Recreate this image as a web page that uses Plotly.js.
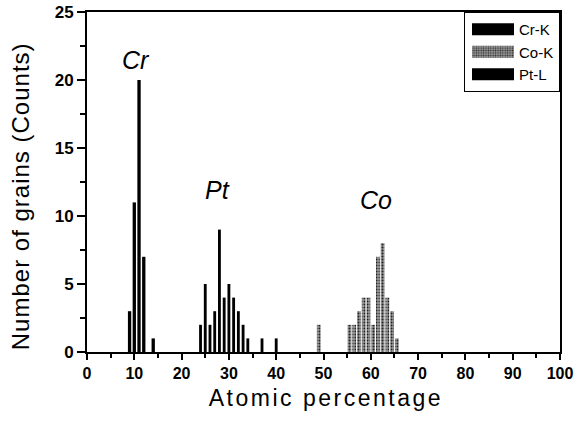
<!DOCTYPE html>
<html>
<head>
<meta charset="utf-8">
<script src="https://cdn.plot.ly/plotly-3.0.1.min.js"></script>
<style>
  html, body { margin: 0; padding: 0; background: #fff; }
  #chart { width: 575px; height: 430px; }
</style>
</head>
<body>
<div id="chart"></div>
<script>
// Data
const seriesNames = ["Cr-K", "Co-K", "Pt-L"];
const crX = [9, 10, 11, 12, 14];
const crY = [3, 11, 20, 7, 1];
const coX = [49, 55.5, 56.5, 57.5, 58.5, 59.5, 60.5, 61.5, 62.5, 63.5, 64.5, 65.5];
const coY = [2, 2, 2, 3, 4, 4, 2, 7, 8, 4, 3, 1];
const ptX = [24, 25, 26, 27, 28, 29, 30, 31, 32, 33, 34, 37, 40];
const ptY = [2, 5, 2, 3, 9, 4, 5, 4, 3, 2, 1, 1, 1];
const xTickVals = [0, 10, 20, 30, 40, 50, 60, 70, 80, 90, 100];
const yTickVals = [0, 5, 10, 15, 20, 25];
const peakLabels = [
  {text: "Cr", x: 10.4, y: 21.5},
  {text: "Pt", x: 27.5, y: 11.9},
  {text: "Co", x: 61, y: 11.2}
];

const FONT = "Arial, 'Liberation Sans', sans-serif";

const traces = [
  {type: "bar", name: seriesNames[0], x: crX, y: crY, width: 0.7,
   marker: {color: "#000", line: {width: 0}}},
  {type: "bar", name: seriesNames[1], x: coX, y: coY, width: 0.8,
   marker: {color: "#9a9a9a", line: {width: 0},
            pattern: {shape: ".", fgcolor: "#222", bgcolor: "#9a9a9a", size: 3, solidity: 0.35}}},
  {type: "bar", name: seriesNames[2], x: ptX, y: ptY, width: 0.6,
   marker: {color: "#000", line: {width: 0}}}
];

const annotations = peakLabels.map(p => ({
  x: p.x, y: p.y, xref: "x", yref: "y", text: p.text, showarrow: false,
  font: {family: FONT, size: 25, color: "#000", style: "italic"}
}));
annotations.push({
  xref: "paper", yref: "paper", x: -0.14, y: 0.459, text: "Number of grains (Counts)",
  textangle: -90, showarrow: false, xanchor: "center", yanchor: "middle",
  font: {family: FONT, size: 24, color: "#000"}
});
annotations.push({
  xref: "paper", yref: "paper", x: 0.505, y: -0.135, text: "Atomic percentage",
  showarrow: false, xanchor: "center", yanchor: "middle",
  font: {family: FONT, size: 23, color: "#000"}
});

const layout = {
  width: 575, height: 430,
  margin: {l: 87, r: 15, t: 12, b: 78},
  paper_bgcolor: "#fff", plot_bgcolor: "#fff",
  barmode: "overlay",
  showlegend: true,
  legend: {
    x: 1, xanchor: "right", y: 1, yanchor: "top",
    bgcolor: "#fff", bordercolor: "#000", borderwidth: 1,
    font: {family: FONT, size: 15, color: "#000"},
    traceorder: "normal", itemwidth: 44, tracegroupgap: 0
  },
  xaxis: {
    range: [0, 100], tickvals: xTickVals, ticktext: xTickVals.map(String),
    ticks: "outside", ticklen: 6, tickwidth: 2, tickcolor: "#000",
    minor: {dtick: 5, ticks: "outside", ticklen: 4, tickwidth: 2, tickcolor: "#000"},
    showline: true, linecolor: "#000", linewidth: 2, mirror: true,
    showgrid: false, zeroline: false,
    tickfont: {family: FONT, size: 16, color: "#000", weight: 700}
  },
  yaxis: {
    range: [0, 25], tickvals: yTickVals, ticktext: yTickVals.map(String),
    ticks: "outside", ticklen: 8, tickwidth: 2, tickcolor: "#000",
    minor: {dtick: 2.5, ticks: "outside", ticklen: 5, tickwidth: 2, tickcolor: "#000"},
    showline: true, linecolor: "#000", linewidth: 2, mirror: true,
    showgrid: false, zeroline: false,
    tickfont: {family: FONT, size: 17, color: "#000", weight: 700}
  },
  annotations: annotations
};

Plotly.newPlot("chart", traces, layout, {staticPlot: true, displayModeBar: false}).then(gd => {
  const texts = gd.querySelectorAll(".annotation-text");
  texts.forEach(t => {
    if (t.textContent === "Atomic percentage") t.style.letterSpacing = "2.5px";
    if (t.textContent === "Number of grains (Counts)") t.style.letterSpacing = "1px";
  });
  gd.querySelectorAll(".legendpoints path").forEach(p => {
    p.setAttribute("d", "M22,6H-20V-6H22Z");
  });
});
</script>
</body>
</html>
